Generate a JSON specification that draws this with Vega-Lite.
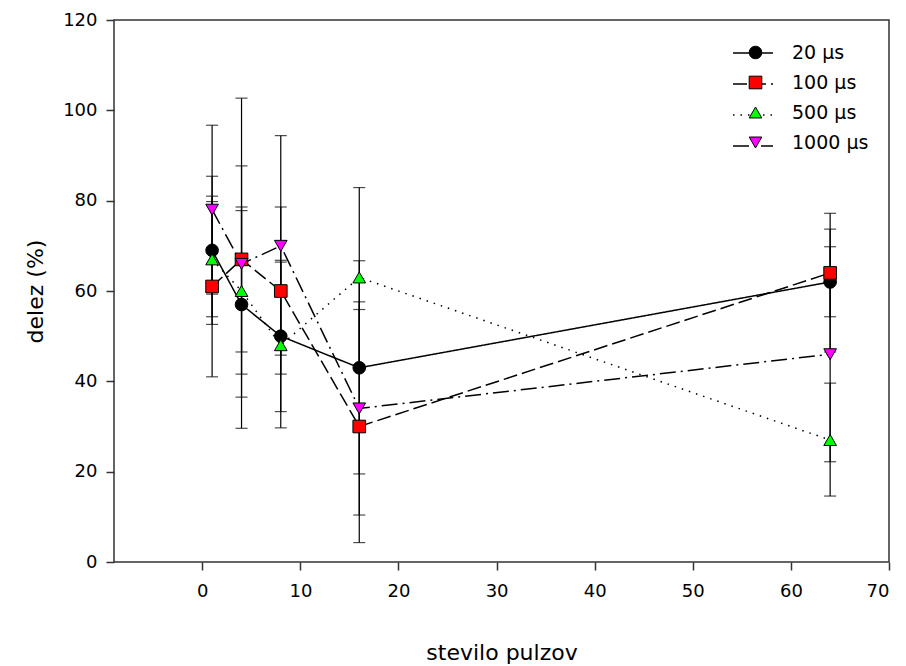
{
  "$schema": "https://vega.github.io/schema/vega-lite/v6.json",
  "width": 775,
  "height": 542,
  "autosize": {"type": "none"},
  "padding": {"left": 114, "top": 20, "right": 17, "bottom": 104},
  "background": "white",
  "config": {
    "font": "DejaVu Sans",
    "view": {"stroke": "#333333", "strokeWidth": 1.5}
  },
  "data": {
    "values": [
      {"series": "20 µs", "x": 1, "y": 69, "lo": 52.6, "hi": 85.4},
      {"series": "20 µs", "x": 4, "y": 57, "lo": 36.5, "hi": 77.8},
      {"series": "20 µs", "x": 8, "y": 50, "lo": 33.3, "hi": 66.8},
      {"series": "20 µs", "x": 16, "y": 43, "lo": 19.5, "hi": 66.7},
      {"series": "20 µs", "x": 64, "y": 62, "lo": 46.5, "hi": 77.2},
      {"series": "100 µs", "x": 1, "y": 61, "lo": 41.0, "hi": 79.8},
      {"series": "100 µs", "x": 4, "y": 67, "lo": 46.5, "hi": 87.7},
      {"series": "100 µs", "x": 8, "y": 60, "lo": 41.6, "hi": 78.6},
      {"series": "100 µs", "x": 16, "y": 30, "lo": 4.3, "hi": 55.9},
      {"series": "100 µs", "x": 64, "y": 64, "lo": 54.3, "hi": 73.7},
      {"series": "500 µs", "x": 1, "y": 67, "lo": 54.3, "hi": 81.0},
      {"series": "500 µs", "x": 4, "y": 60, "lo": 41.6, "hi": 78.6},
      {"series": "500 µs", "x": 8, "y": 48, "lo": 29.7, "hi": 66.4},
      {"series": "500 µs", "x": 16, "y": 63, "lo": 43.7, "hi": 82.9},
      {"series": "500 µs", "x": 64, "y": 27, "lo": 14.6, "hi": 39.6},
      {"series": "1000 µs", "x": 1, "y": 78, "lo": 59.3, "hi": 96.7},
      {"series": "1000 µs", "x": 4, "y": 66, "lo": 29.6, "hi": 102.7},
      {"series": "1000 µs", "x": 8, "y": 70, "lo": 45.8, "hi": 94.4},
      {"series": "1000 µs", "x": 16, "y": 34, "lo": 10.4, "hi": 57.6},
      {"series": "1000 µs", "x": 64, "y": 46, "lo": 22.2, "hi": 69.8}
    ]
  },
  "layer": [
    {
      "mark": {"type": "rule", "color": "black", "strokeWidth": 1.2},
      "encoding": {
        "x": {"field": "x", "type": "quantitative"},
        "y": {"field": "lo", "type": "quantitative"},
        "y2": {"field": "hi"}
      }
    },
    {
      "mark": {"type": "tick", "orient": "horizontal", "color": "black", "size": 12, "thickness": 1.2},
      "encoding": {
        "x": {"field": "x", "type": "quantitative"},
        "y": {"field": "lo", "type": "quantitative"}
      }
    },
    {
      "mark": {"type": "tick", "orient": "horizontal", "color": "black", "size": 12, "thickness": 1.2},
      "encoding": {
        "x": {"field": "x", "type": "quantitative"},
        "y": {"field": "hi", "type": "quantitative"}
      }
    },
    {
      "mark": {"type": "line", "color": "black", "strokeWidth": 1.5},
      "encoding": {
        "x": {"field": "x", "type": "quantitative"},
        "y": {"field": "y", "type": "quantitative"},
        "strokeDash": {
          "field": "series", "type": "nominal",
          "sort": ["20 µs", "100 µs", "500 µs", "1000 µs"],
          "scale": {"range": [[1, 0], [14, 5], [1.5, 6], [16, 5, 2, 5]]},
          "legend": {"title": null, "orient": "none", "legendX": 618, "legendY": 12, "symbolType": "stroke", "symbolSize": 1600, "symbolStrokeColor": "black", "symbolStrokeWidth": 1.5, "rowPadding": -14, "labelExpr": "''", "labelFontSize": 19}
        }
      }
    },
    {
      "mark": {"type": "point", "filled": true, "opacity": 1, "stroke": "black", "strokeWidth": 1, "size": 160},
      "encoding": {
        "x": {
          "field": "x", "type": "quantitative",
          "scale": {"domain": [-9, 70], "nice": false, "zero": false},
          "axis": {"values": [0, 10, 20, 30, 40, 50, 60, 70], "title": "stevilo pulzov", "grid": false, "domain": false, "tickSize": 8, "tickWidth": 1.5, "tickColor": "#333333", "labelFont": "DejaVu Sans", "labelFontSize": 18, "labelColor": "black", "titleFont": "DejaVu Sans", "titleFontSize": 22, "titleFontWeight": "normal", "titleColor": "black", "labelPadding": 12, "titlePadding": 42}
        },
        "y": {
          "field": "y", "type": "quantitative",
          "scale": {"domain": [0, 120], "nice": false},
          "axis": {"values": [0, 20, 40, 60, 80, 100, 120], "title": "delez (%)", "grid": false, "domain": false, "tickSize": 8, "tickWidth": 1.5, "tickColor": "#333333", "labelFont": "DejaVu Sans", "labelFontSize": 18, "labelColor": "black", "titleFont": "DejaVu Sans", "titleFontSize": 22, "titleFontWeight": "normal", "titleColor": "black", "labelPadding": 9, "titlePadding": 15}
        },
        "color": {
          "field": "series", "type": "nominal",
          "scale": {"domain": ["20 µs", "100 µs", "500 µs", "1000 µs"], "range": ["#000000", "#ff0000", "#00ff00", "#ff00ff"]},
          "legend": {"title": null, "orient": "none", "legendX": 632, "legendY": 23, "symbolStrokeColor": "black", "symbolStrokeWidth": 1, "symbolSize": 160, "rowPadding": 10, "labelOffset": 27, "labelFont": "DejaVu Sans", "labelFontSize": 19, "labelColor": "black"}
        },
        "shape": {
          "field": "series", "type": "nominal",
          "scale": {"domain": ["20 µs", "100 µs", "500 µs", "1000 µs"], "range": ["circle", "square", "triangle-up", "triangle-down"]},
          "legend": {"title": null, "orient": "none", "legendX": 632, "legendY": 23, "symbolStrokeColor": "black", "symbolStrokeWidth": 1, "symbolSize": 160, "rowPadding": 10, "labelOffset": 27, "labelFont": "DejaVu Sans", "labelFontSize": 19, "labelColor": "black"}
        }
      }
    }
  ]
}
